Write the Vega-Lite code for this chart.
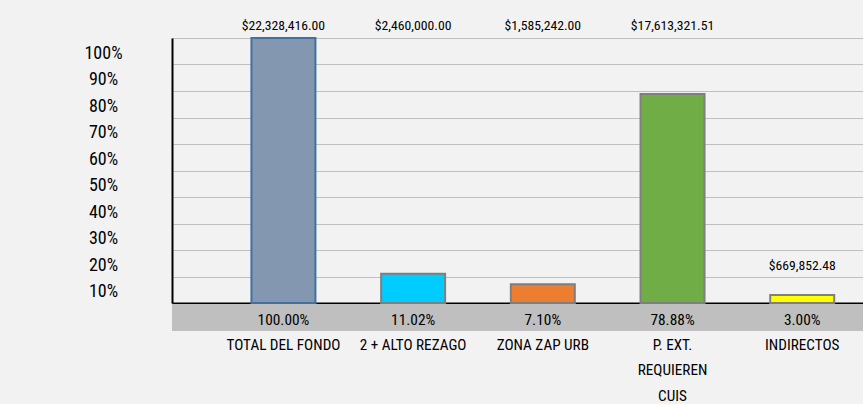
{
  "$schema": "https://vega.github.io/schema/vega-lite/v6.json",
  "background": "#f2f2f2",
  "padding": {"left": 83, "top": 19, "right": 0, "bottom": 0},
  "spacing": 0,
  "config": {
    "view": {"stroke": null},
    "font": "Roboto Condensed, Arial Narrow, sans-serif"
  },
  "data": {
    "values": [
      {"cat": "TOTAL DEL FONDO", "pct": 1.0, "amount": 22328416.00},
      {"cat": "2 + ALTO REZAGO", "pct": 0.1102, "amount": 2460000.00},
      {"cat": "ZONA ZAP URB", "pct": 0.0710, "amount": 1585242.00},
      {"cat": "P. EXT. REQUIEREN CUIS", "pct": 0.7888, "amount": 17613321.51},
      {"cat": "INDIRECTOS", "pct": 0.0300, "amount": 669852.48}
    ]
  },
  "vconcat": [
    {
      "width": 691,
      "height": 265,
      "layer": [
        {
          "mark": {"type": "bar", "strokeWidth": 2},
          "encoding": {
            "x": {
              "field": "cat", "type": "nominal", "sort": null,
              "scale": {"type": "band", "paddingInner": 0.5066, "paddingOuter": 0.4172, "align": 0.734},
              "axis": {"labels": false, "ticks": false, "title": null, "domainColor": "#000000", "domainWidth": 2, "grid": false}
            },
            "y": {
              "field": "pct", "type": "quantitative",
              "scale": {"domain": [0, 1], "nice": false},
              "axis": {
                "values": [0.1, 0.2, 0.3, 0.4, 0.5, 0.6, 0.7, 0.8, 0.9, 1.0],
                "tickCount": 11,
                "format": ".0%", "title": null, "grid": true,
                "gridColor": "#bfbfbf", "gridWidth": 1,
                "domainColor": "#000000", "domainWidth": 2,
                "ticks": false, "labelAlign": "center", "labelBaseline": "middle",
                "labelOverlap": false,
                "labelPadding": 69, "labelOffset": 15, "labelFontSize": 18, "labelColor": "#000000"
              }
            },
            "fill": {
              "field": "cat", "type": "nominal",
              "scale": {
                "domain": ["TOTAL DEL FONDO", "2 + ALTO REZAGO", "ZONA ZAP URB", "P. EXT. REQUIEREN CUIS", "INDIRECTOS"],
                "range": ["#8497b0", "#00ccff", "#ed7d31", "#70ad47", "#ffff00"]
              },
              "legend": null
            },
            "stroke": {
              "field": "cat", "type": "nominal",
              "scale": {
                "domain": ["TOTAL DEL FONDO", "2 + ALTO REZAGO", "ZONA ZAP URB", "P. EXT. REQUIEREN CUIS", "INDIRECTOS"],
                "range": ["#41719c", "#7f7f7f", "#7f7f7f", "#7f7f7f", "#7f7f7f"]
              },
              "legend": null
            }
          }
        },
        {
          "transform": [{"filter": "datum.cat != 'INDIRECTOS'"}],
          "mark": {"type": "text", "dy": -12, "fontSize": 13.7, "baseline": "middle", "color": "#000000"},
          "encoding": {
            "x": {"field": "cat", "type": "nominal", "sort": null},
            "y": {"datum": 1, "type": "quantitative"},
            "text": {"field": "amount", "type": "quantitative", "format": "$,.2f"}
          }
        },
        {
          "transform": [{"filter": "datum.cat == 'INDIRECTOS'"}],
          "mark": {"type": "text", "dy": -29, "fontSize": 13.7, "baseline": "middle", "color": "#000000"},
          "encoding": {
            "x": {"field": "cat", "type": "nominal", "sort": null},
            "y": {"field": "pct", "type": "quantitative"},
            "text": {"field": "amount", "type": "quantitative", "format": "$,.2f"}
          }
        }
      ]
    },
    {
      "width": 691,
      "height": 27,
      "view": {"fill": "#bfbfbf", "stroke": null},
      "mark": {"type": "text", "fontSize": 15.4, "dy": 2, "baseline": "middle", "color": "#000000"},
      "encoding": {
        "x": {
          "field": "cat", "type": "nominal", "sort": null,
          "scale": {"type": "band", "paddingInner": 0.5066, "paddingOuter": 0.4172, "align": 0.734},
          "axis": {
            "domain": false, "ticks": false, "title": null, "grid": false,
            "labelFontSize": 15.2, "labelPadding": 6, "labelLineHeight": 25.5,
            "labelAngle": 0, "labelOverlap": false, "labelColor": "#000000",
            "labelExpr": "datum.value == 'P. EXT. REQUIEREN CUIS' ? ['P. EXT.', 'REQUIEREN', 'CUIS'] : datum.value"
          }
        },
        "text": {"field": "pct", "type": "quantitative", "format": ".2%"}
      }
    }
  ]
}
